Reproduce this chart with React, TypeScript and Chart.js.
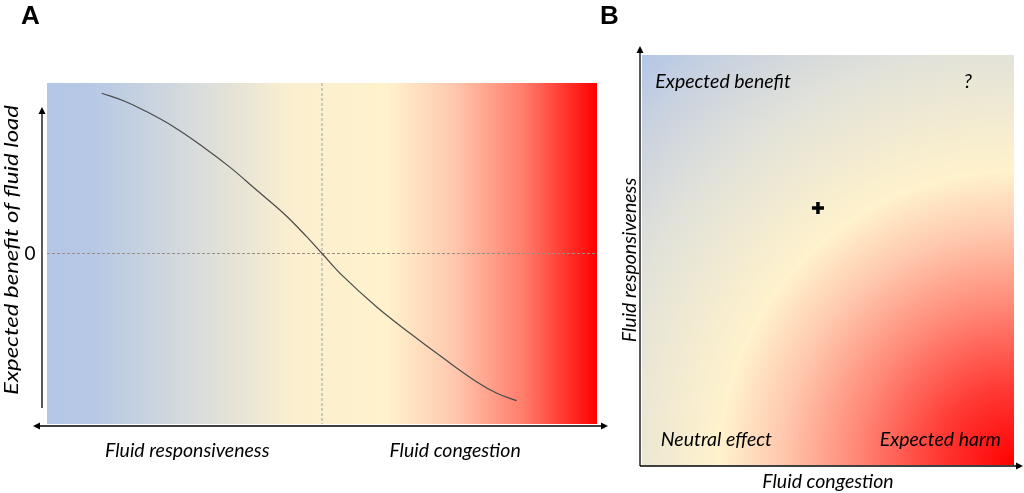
import React, { useEffect, useRef } from "react";
import { Chart, registerables } from "chart.js";
Chart.register(...registerables);

// ---- Panel A data ----
const curveX = [9.95, 13.9, 17.5, 23.0, 28.4, 33.3, 38.1, 43.0, 47.2, 50.0, 53.9, 59.9, 66.0, 72.1, 78.1, 81.8, 85.4];
const curveY = [0.94, 0.896, 0.842, 0.744, 0.625, 0.505, 0.372, 0.236, 0.099, 0.0, -0.136, -0.312, -0.468, -0.615, -0.752, -0.82, -0.863];
const panelATitle = "A";
const panelAYTitle = "Expected benefit of fluid load";
const panelAZeroLabel = "0";
const panelAXLabels = ["Fluid responsiveness", "Fluid congestion"];
const panelAXLabelPos = [25.5, 74.2];

// ---- Panel B data ----
const panelBTitle = "B";
const panelBXTitle = "Fluid congestion";
const panelBYTitle = "Fluid responsiveness";
const panelBLabels = ["Expected benefit", "?", "Neutral effect", "Expected harm"];
const panelBLabelX = [0.218, 0.876, 0.2, 0.802];
const panelBLabelY = [0.934, 0.934, 0.061, 0.061];
const panelBMarkerX = [0.473];
const panelBMarkerY = [0.627];

const TEXT_FONT = "italic 19.5px Lato, 'Open Sans', sans-serif";
const YTITLE_FONT = "italic 19px Lato, 'Open Sans', sans-serif";
const YTITLE_LENGTH = 290;
const TITLE_FONT = "bold 26px 'Liberation Sans', Arial, sans-serif";

function arrowHead(ctx: CanvasRenderingContext2D, x: number, y: number, dx: number, dy: number) {
  const len = 7, half = 3.5;
  const px = -dy, py = dx;
  ctx.beginPath();
  ctx.moveTo(x, y);
  ctx.lineTo(x - dx * len + px * half, y - dy * len + py * half);
  ctx.lineTo(x - dx * len - px * half, y - dy * len - py * half);
  ctx.closePath();
  ctx.fill();
}

const panelAPlugin = {
  id: "panelA",
  beforeDraw(chart: any) {
    const { ctx, chartArea: a } = chart;
    const g = ctx.createLinearGradient(a.left, 0, a.right, 0);
    g.addColorStop(0, "#b4c7e7");
    g.addColorStop(0.08, "#b6c8e5");
    g.addColorStop(0.26, "#d6dbdc");
    g.addColorStop(0.45, "#fbefcf");
    g.addColorStop(0.62, "#fff2cc");
    g.addColorStop(0.74, "#ffc8ae");
    g.addColorStop(0.87, "#ff7a68");
    g.addColorStop(1, "#ff0000");
    ctx.save();
    ctx.fillStyle = g;
    ctx.fillRect(a.left, a.top, a.right - a.left, a.bottom - a.top);
    ctx.restore();
  },
  beforeDatasetsDraw(chart: any) {
    const { ctx, chartArea: a, scales } = chart;
    const y0 = scales.y.getPixelForValue(0);
    const xm = scales.x.getPixelForValue(50);
    ctx.save();
    ctx.lineWidth = 1;
    ctx.setLineDash([3, 2]);
    ctx.strokeStyle = "#9a8f86";
    ctx.beginPath();
    ctx.moveTo(a.left, y0);
    ctx.lineTo(a.right, y0);
    ctx.stroke();
    ctx.strokeStyle = "#9aa3ad";
    ctx.beginPath();
    ctx.moveTo(xm, a.top);
    ctx.lineTo(xm, a.bottom);
    ctx.stroke();
    ctx.restore();
  },
  afterDraw(chart: any) {
    const { ctx, chartArea: a, scales } = chart;
    ctx.save();
    ctx.strokeStyle = "#000";
    ctx.fillStyle = "#000";
    ctx.lineWidth = 1.3;
    const ax = a.left - 5;
    ctx.beginPath();
    ctx.moveTo(ax, 408);
    ctx.lineTo(ax, 110);
    ctx.stroke();
    arrowHead(ctx, ax, 107, 0, -1);
    const ay = a.bottom + 2;
    ctx.beginPath();
    ctx.moveTo(36, ay);
    ctx.lineTo(a.right + 8, ay);
    ctx.stroke();
    arrowHead(ctx, 33, ay, -1, 0);
    arrowHead(ctx, a.right + 11, ay, 1, 0);
    ctx.font = TITLE_FONT;
    ctx.textAlign = "left";
    ctx.textBaseline = "alphabetic";
    ctx.fillText(panelATitle, 21, 24);
    ctx.font = "19px Lato, 'Open Sans', sans-serif";
    ctx.textAlign = "center";
    ctx.textBaseline = "middle";
    ctx.fillText(panelAZeroLabel, 30, scales.y.getPixelForValue(0));
    ctx.font = TEXT_FONT;
    panelAXLabels.forEach((t, i) => {
      ctx.fillText(t, scales.x.getPixelForValue(panelAXLabelPos[i]), 451);
    });
    ctx.font = YTITLE_FONT;
    const w = ctx.measureText(panelAYTitle).width;
    ctx.translate(12, 250);
    ctx.rotate(-Math.PI / 2);
    ctx.scale(YTITLE_LENGTH / w, 1);
    ctx.fillText(panelAYTitle, 0, 0);
    ctx.restore();
  },
};

const panelBPlugin = {
  id: "panelB",
  beforeDraw(chart: any) {
    const { ctx, chartArea: a } = chart;
    const w = a.right - a.left, h = a.bottom - a.top;
    const r = Math.sqrt(w * w + h * h);
    const g = ctx.createRadialGradient(a.right, a.bottom, 0, a.right, a.bottom, r);
    g.addColorStop(0, "#ff0000");
    g.addColorStop(0.14, "#ff3a35");
    g.addColorStop(0.29, "#ff8a78");
    g.addColorStop(0.42, "#ffc8ae");
    g.addColorStop(0.53, "#fff2cc");
    g.addColorStop(0.6, "#f6edd0");
    g.addColorStop(0.75, "#e2e2d9");
    g.addColorStop(0.88, "#cdd4de");
    g.addColorStop(1, "#b4c7e7");
    ctx.save();
    ctx.fillStyle = g;
    ctx.fillRect(a.left, a.top, w, h);
    ctx.restore();
  },
  afterDraw(chart: any) {
    const { ctx, chartArea: a, scales } = chart;
    ctx.save();
    ctx.strokeStyle = "#000";
    ctx.fillStyle = "#000";
    ctx.lineWidth = 1.3;
    const ox = a.left - 2, oy = a.bottom + 1;
    ctx.beginPath();
    ctx.moveTo(ox, oy);
    ctx.lineTo(ox, 50);
    ctx.stroke();
    arrowHead(ctx, ox, 46, 0, -1);
    ctx.beginPath();
    ctx.moveTo(ox, oy);
    ctx.lineTo(420, oy);
    ctx.stroke();
    arrowHead(ctx, 423, oy, 1, 0);
    ctx.font = TITLE_FONT;
    ctx.textAlign = "left";
    ctx.textBaseline = "alphabetic";
    ctx.fillText(panelBTitle, 0, 24);
    ctx.font = TEXT_FONT;
    ctx.textAlign = "center";
    ctx.textBaseline = "middle";
    panelBLabels.forEach((t, i) => {
      ctx.fillText(t, scales.x.getPixelForValue(panelBLabelX[i]), scales.y.getPixelForValue(panelBLabelY[i]));
    });
    ctx.fillText(panelBXTitle, (a.left + a.right) / 2, 482);
    ctx.translate(30, (a.top + a.bottom) / 2);
    ctx.rotate(-Math.PI / 2);
    ctx.fillText(panelBYTitle, 0, 0);
    ctx.restore();
  },
};

function PanelA() {
  const ref = useRef<HTMLCanvasElement>(null);
  useEffect(() => {
    const chart = new Chart(ref.current!, {
      type: "line",
      data: {
        datasets: [
          {
            data: curveX.map((x, i) => ({ x, y: curveY[i] })),
            borderColor: "#4a4a4a",
            borderWidth: 1.2,
            pointRadius: 0,
            tension: 0.4,
            fill: false,
          },
        ],
      },
      options: {
        animation: false,
        responsive: true,
        maintainAspectRatio: false,
        layout: { padding: { left: 47, right: 18, top: 83, bottom: 69 } },
        plugins: { legend: { display: false }, tooltip: { enabled: false } },
        scales: {
          x: { type: "linear", min: 0, max: 100, display: false },
          y: { type: "linear", min: -1, max: 1, display: false },
        },
      },
      plugins: [panelAPlugin],
    } as any);
    return () => chart.destroy();
  }, []);
  return (
    <div style={{ position: "absolute", left: 0, top: 0, width: 615, height: 493 }}>
      <canvas ref={ref} />
    </div>
  );
}

function PanelB() {
  const ref = useRef<HTMLCanvasElement>(null);
  useEffect(() => {
    const chart = new Chart(ref.current!, {
      type: "scatter",
      data: {
        datasets: [
          {
            data: panelBMarkerX.map((x, i) => ({ x, y: panelBMarkerY[i] })),
            pointStyle: "cross",
            pointRadius: 6,
            borderWidth: 3.5,
            borderColor: "#000",
            backgroundColor: "#000",
          },
        ],
      },
      options: {
        animation: false,
        responsive: true,
        maintainAspectRatio: false,
        layout: { padding: { left: 42, right: 10, top: 55, bottom: 28 } },
        plugins: { legend: { display: false }, tooltip: { enabled: false } },
        scales: {
          x: { type: "linear", min: 0, max: 1, display: false },
          y: { type: "linear", min: 0, max: 1, display: false },
        },
      },
      plugins: [panelBPlugin],
    } as any);
    return () => chart.destroy();
  }, []);
  return (
    <div style={{ position: "absolute", left: 600, top: 0, width: 424, height: 493 }}>
      <canvas ref={ref} />
    </div>
  );
}

export default function App() {
  return (
    <div style={{ position: "absolute", left: 0, top: 0, width: 1024, height: 493, background: "#fff", overflow: "hidden" }}>
      <PanelA />
      <PanelB />
    </div>
  );
}
